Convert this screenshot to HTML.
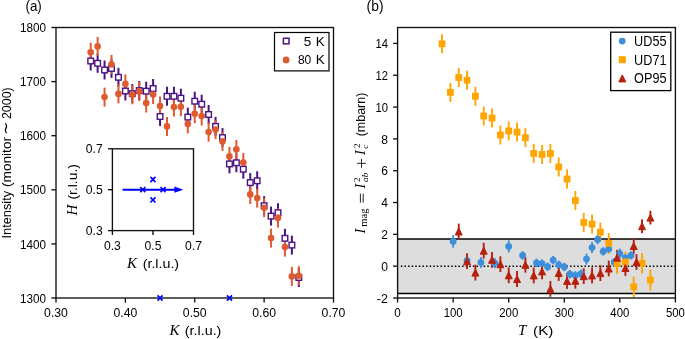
<!DOCTYPE html>
<html><head><meta charset="utf-8"><style>
html,body{margin:0;padding:0;background:#fff;overflow:hidden;}
svg{display:block;will-change:transform;}
text{font-family:"Liberation Sans",sans-serif;fill:#000;}
.m{font-family:"Liberation Serif",serif;font-style:italic;}
.r{font-family:"Liberation Serif",serif;}
</style></head><body>
<svg width="685" height="339" viewBox="0 0 685 339">
<g>
<line x1="90.69" y1="51.50" x2="90.69" y2="70.50" stroke="#4b1283" stroke-width="2.0"/>
<line x1="97.62" y1="53.80" x2="97.62" y2="72.80" stroke="#4b1283" stroke-width="2.0"/>
<line x1="104.56" y1="60.50" x2="104.56" y2="79.50" stroke="#4b1283" stroke-width="2.0"/>
<line x1="111.50" y1="58.90" x2="111.50" y2="77.90" stroke="#4b1283" stroke-width="2.0"/>
<line x1="118.44" y1="67.80" x2="118.44" y2="86.80" stroke="#4b1283" stroke-width="2.0"/>
<line x1="125.37" y1="81.50" x2="125.37" y2="100.50" stroke="#4b1283" stroke-width="2.0"/>
<line x1="132.31" y1="84.10" x2="132.31" y2="103.10" stroke="#4b1283" stroke-width="2.0"/>
<line x1="139.25" y1="81.10" x2="139.25" y2="100.10" stroke="#4b1283" stroke-width="2.0"/>
<line x1="146.19" y1="81.70" x2="146.19" y2="100.70" stroke="#4b1283" stroke-width="2.0"/>
<line x1="153.12" y1="79.00" x2="153.12" y2="98.00" stroke="#4b1283" stroke-width="2.0"/>
<line x1="160.06" y1="107.00" x2="160.06" y2="126.00" stroke="#4b1283" stroke-width="2.0"/>
<line x1="167.00" y1="86.80" x2="167.00" y2="105.80" stroke="#4b1283" stroke-width="2.0"/>
<line x1="173.94" y1="86.80" x2="173.94" y2="105.80" stroke="#4b1283" stroke-width="2.0"/>
<line x1="180.88" y1="88.70" x2="180.88" y2="107.70" stroke="#4b1283" stroke-width="2.0"/>
<line x1="187.81" y1="107.60" x2="187.81" y2="126.60" stroke="#4b1283" stroke-width="2.0"/>
<line x1="194.75" y1="91.70" x2="194.75" y2="110.70" stroke="#4b1283" stroke-width="2.0"/>
<line x1="201.69" y1="94.70" x2="201.69" y2="113.70" stroke="#4b1283" stroke-width="2.0"/>
<line x1="208.62" y1="105.00" x2="208.62" y2="124.00" stroke="#4b1283" stroke-width="2.0"/>
<line x1="215.56" y1="116.90" x2="215.56" y2="135.90" stroke="#4b1283" stroke-width="2.0"/>
<line x1="222.50" y1="128.10" x2="222.50" y2="147.10" stroke="#4b1283" stroke-width="2.0"/>
<line x1="229.44" y1="154.40" x2="229.44" y2="173.40" stroke="#4b1283" stroke-width="2.0"/>
<line x1="236.37" y1="153.30" x2="236.37" y2="172.30" stroke="#4b1283" stroke-width="2.0"/>
<line x1="243.31" y1="159.70" x2="243.31" y2="178.70" stroke="#4b1283" stroke-width="2.0"/>
<line x1="250.25" y1="173.10" x2="250.25" y2="192.10" stroke="#4b1283" stroke-width="2.0"/>
<line x1="257.19" y1="171.30" x2="257.19" y2="190.30" stroke="#4b1283" stroke-width="2.0"/>
<line x1="264.12" y1="196.20" x2="264.12" y2="215.20" stroke="#4b1283" stroke-width="2.0"/>
<line x1="271.06" y1="206.60" x2="271.06" y2="225.60" stroke="#4b1283" stroke-width="2.0"/>
<line x1="278.00" y1="203.20" x2="278.00" y2="222.20" stroke="#4b1283" stroke-width="2.0"/>
<line x1="284.94" y1="228.80" x2="284.94" y2="247.80" stroke="#4b1283" stroke-width="2.0"/>
<line x1="291.87" y1="235.60" x2="291.87" y2="254.60" stroke="#4b1283" stroke-width="2.0"/>
<line x1="298.81" y1="268.00" x2="298.81" y2="287.00" stroke="#4b1283" stroke-width="2.0"/>
<line x1="90.69" y1="42.70" x2="90.69" y2="61.70" stroke="#e05a30" stroke-width="2.0"/>
<line x1="97.62" y1="36.90" x2="97.62" y2="55.90" stroke="#e05a30" stroke-width="2.0"/>
<line x1="104.56" y1="87.60" x2="104.56" y2="106.60" stroke="#e05a30" stroke-width="2.0"/>
<line x1="111.50" y1="54.90" x2="111.50" y2="73.90" stroke="#e05a30" stroke-width="2.0"/>
<line x1="118.44" y1="84.40" x2="118.44" y2="103.40" stroke="#e05a30" stroke-width="2.0"/>
<line x1="125.37" y1="74.40" x2="125.37" y2="93.40" stroke="#e05a30" stroke-width="2.0"/>
<line x1="132.31" y1="85.30" x2="132.31" y2="104.30" stroke="#e05a30" stroke-width="2.0"/>
<line x1="139.25" y1="82.00" x2="139.25" y2="101.00" stroke="#e05a30" stroke-width="2.0"/>
<line x1="146.19" y1="93.50" x2="146.19" y2="112.50" stroke="#e05a30" stroke-width="2.0"/>
<line x1="153.12" y1="85.00" x2="153.12" y2="104.00" stroke="#e05a30" stroke-width="2.0"/>
<line x1="160.06" y1="96.50" x2="160.06" y2="115.50" stroke="#e05a30" stroke-width="2.0"/>
<line x1="167.00" y1="116.90" x2="167.00" y2="135.90" stroke="#e05a30" stroke-width="2.0"/>
<line x1="173.94" y1="97.50" x2="173.94" y2="116.50" stroke="#e05a30" stroke-width="2.0"/>
<line x1="180.88" y1="97.20" x2="180.88" y2="116.20" stroke="#e05a30" stroke-width="2.0"/>
<line x1="187.81" y1="114.40" x2="187.81" y2="133.40" stroke="#e05a30" stroke-width="2.0"/>
<line x1="194.75" y1="104.20" x2="194.75" y2="123.20" stroke="#e05a30" stroke-width="2.0"/>
<line x1="201.69" y1="106.50" x2="201.69" y2="125.50" stroke="#e05a30" stroke-width="2.0"/>
<line x1="208.62" y1="122.60" x2="208.62" y2="141.60" stroke="#e05a30" stroke-width="2.0"/>
<line x1="215.56" y1="120.10" x2="215.56" y2="139.10" stroke="#e05a30" stroke-width="2.0"/>
<line x1="222.50" y1="131.90" x2="222.50" y2="150.90" stroke="#e05a30" stroke-width="2.0"/>
<line x1="229.44" y1="146.90" x2="229.44" y2="165.90" stroke="#e05a30" stroke-width="2.0"/>
<line x1="236.37" y1="139.90" x2="236.37" y2="158.90" stroke="#e05a30" stroke-width="2.0"/>
<line x1="243.31" y1="153.10" x2="243.31" y2="172.10" stroke="#e05a30" stroke-width="2.0"/>
<line x1="250.25" y1="184.90" x2="250.25" y2="203.90" stroke="#e05a30" stroke-width="2.0"/>
<line x1="257.19" y1="188.60" x2="257.19" y2="207.60" stroke="#e05a30" stroke-width="2.0"/>
<line x1="264.12" y1="198.20" x2="264.12" y2="217.20" stroke="#e05a30" stroke-width="2.0"/>
<line x1="271.06" y1="228.60" x2="271.06" y2="247.60" stroke="#e05a30" stroke-width="2.0"/>
<line x1="278.00" y1="208.40" x2="278.00" y2="227.40" stroke="#e05a30" stroke-width="2.0"/>
<line x1="284.94" y1="237.60" x2="284.94" y2="256.60" stroke="#e05a30" stroke-width="2.0"/>
<line x1="291.87" y1="266.90" x2="291.87" y2="285.90" stroke="#e05a30" stroke-width="2.0"/>
<line x1="298.81" y1="266.20" x2="298.81" y2="285.20" stroke="#e05a30" stroke-width="2.0"/>
<rect x="87.89" y="58.20" width="5.6" height="5.6" fill="#fff" stroke="#4b1283" stroke-width="1.4"/>
<rect x="94.83" y="60.50" width="5.6" height="5.6" fill="#fff" stroke="#4b1283" stroke-width="1.4"/>
<rect x="101.76" y="67.20" width="5.6" height="5.6" fill="#fff" stroke="#4b1283" stroke-width="1.4"/>
<rect x="108.70" y="65.60" width="5.6" height="5.6" fill="#fff" stroke="#4b1283" stroke-width="1.4"/>
<rect x="115.64" y="74.50" width="5.6" height="5.6" fill="#fff" stroke="#4b1283" stroke-width="1.4"/>
<rect x="122.57" y="88.20" width="5.6" height="5.6" fill="#fff" stroke="#4b1283" stroke-width="1.4"/>
<rect x="129.51" y="90.80" width="5.6" height="5.6" fill="#fff" stroke="#4b1283" stroke-width="1.4"/>
<rect x="136.45" y="87.80" width="5.6" height="5.6" fill="#fff" stroke="#4b1283" stroke-width="1.4"/>
<rect x="143.39" y="88.40" width="5.6" height="5.6" fill="#fff" stroke="#4b1283" stroke-width="1.4"/>
<rect x="150.32" y="85.70" width="5.6" height="5.6" fill="#fff" stroke="#4b1283" stroke-width="1.4"/>
<rect x="157.26" y="113.70" width="5.6" height="5.6" fill="#fff" stroke="#4b1283" stroke-width="1.4"/>
<rect x="164.20" y="93.50" width="5.6" height="5.6" fill="#fff" stroke="#4b1283" stroke-width="1.4"/>
<rect x="171.14" y="93.50" width="5.6" height="5.6" fill="#fff" stroke="#4b1283" stroke-width="1.4"/>
<rect x="178.07" y="95.40" width="5.6" height="5.6" fill="#fff" stroke="#4b1283" stroke-width="1.4"/>
<rect x="185.01" y="114.30" width="5.6" height="5.6" fill="#fff" stroke="#4b1283" stroke-width="1.4"/>
<rect x="191.95" y="98.40" width="5.6" height="5.6" fill="#fff" stroke="#4b1283" stroke-width="1.4"/>
<rect x="198.89" y="101.40" width="5.6" height="5.6" fill="#fff" stroke="#4b1283" stroke-width="1.4"/>
<rect x="205.82" y="111.70" width="5.6" height="5.6" fill="#fff" stroke="#4b1283" stroke-width="1.4"/>
<rect x="212.76" y="123.60" width="5.6" height="5.6" fill="#fff" stroke="#4b1283" stroke-width="1.4"/>
<rect x="219.70" y="134.80" width="5.6" height="5.6" fill="#fff" stroke="#4b1283" stroke-width="1.4"/>
<rect x="226.64" y="161.10" width="5.6" height="5.6" fill="#fff" stroke="#4b1283" stroke-width="1.4"/>
<rect x="233.57" y="160.00" width="5.6" height="5.6" fill="#fff" stroke="#4b1283" stroke-width="1.4"/>
<rect x="240.51" y="166.40" width="5.6" height="5.6" fill="#fff" stroke="#4b1283" stroke-width="1.4"/>
<rect x="247.45" y="179.80" width="5.6" height="5.6" fill="#fff" stroke="#4b1283" stroke-width="1.4"/>
<rect x="254.39" y="178.00" width="5.6" height="5.6" fill="#fff" stroke="#4b1283" stroke-width="1.4"/>
<rect x="261.32" y="202.90" width="5.6" height="5.6" fill="#fff" stroke="#4b1283" stroke-width="1.4"/>
<rect x="268.26" y="213.30" width="5.6" height="5.6" fill="#fff" stroke="#4b1283" stroke-width="1.4"/>
<rect x="275.20" y="209.90" width="5.6" height="5.6" fill="#fff" stroke="#4b1283" stroke-width="1.4"/>
<rect x="282.14" y="235.50" width="5.6" height="5.6" fill="#fff" stroke="#4b1283" stroke-width="1.4"/>
<rect x="289.07" y="242.30" width="5.6" height="5.6" fill="#fff" stroke="#4b1283" stroke-width="1.4"/>
<rect x="296.01" y="274.70" width="5.6" height="5.6" fill="#fff" stroke="#4b1283" stroke-width="1.4"/>
<circle cx="90.69" cy="52.20" r="3.3" fill="#e05a30"/>
<circle cx="97.62" cy="46.40" r="3.3" fill="#e05a30"/>
<circle cx="104.56" cy="97.10" r="3.3" fill="#e05a30"/>
<circle cx="111.50" cy="64.40" r="3.3" fill="#e05a30"/>
<circle cx="118.44" cy="93.90" r="3.3" fill="#e05a30"/>
<circle cx="125.37" cy="83.90" r="3.3" fill="#e05a30"/>
<circle cx="132.31" cy="94.80" r="3.3" fill="#e05a30"/>
<circle cx="139.25" cy="91.50" r="3.3" fill="#e05a30"/>
<circle cx="146.19" cy="103.00" r="3.3" fill="#e05a30"/>
<circle cx="153.12" cy="94.50" r="3.3" fill="#e05a30"/>
<circle cx="160.06" cy="106.00" r="3.3" fill="#e05a30"/>
<circle cx="167.00" cy="126.40" r="3.3" fill="#e05a30"/>
<circle cx="173.94" cy="107.00" r="3.3" fill="#e05a30"/>
<circle cx="180.88" cy="106.70" r="3.3" fill="#e05a30"/>
<circle cx="187.81" cy="123.90" r="3.3" fill="#e05a30"/>
<circle cx="194.75" cy="113.70" r="3.3" fill="#e05a30"/>
<circle cx="201.69" cy="116.00" r="3.3" fill="#e05a30"/>
<circle cx="208.62" cy="132.10" r="3.3" fill="#e05a30"/>
<circle cx="215.56" cy="129.60" r="3.3" fill="#e05a30"/>
<circle cx="222.50" cy="141.40" r="3.3" fill="#e05a30"/>
<circle cx="229.44" cy="156.40" r="3.3" fill="#e05a30"/>
<circle cx="236.37" cy="149.40" r="3.3" fill="#e05a30"/>
<circle cx="243.31" cy="162.60" r="3.3" fill="#e05a30"/>
<circle cx="250.25" cy="194.40" r="3.3" fill="#e05a30"/>
<circle cx="257.19" cy="198.10" r="3.3" fill="#e05a30"/>
<circle cx="264.12" cy="207.70" r="3.3" fill="#e05a30"/>
<circle cx="271.06" cy="238.10" r="3.3" fill="#e05a30"/>
<circle cx="278.00" cy="217.90" r="3.3" fill="#e05a30"/>
<circle cx="284.94" cy="247.10" r="3.3" fill="#e05a30"/>
<circle cx="291.87" cy="276.40" r="3.3" fill="#e05a30"/>
<circle cx="298.81" cy="275.70" r="3.3" fill="#e05a30"/>
</g>
<rect x="56.0" y="27.5" width="277.5" height="270.5" fill="none" stroke="#111" stroke-width="1.35"/>
<path d="M157.51,295.45L162.61,300.55M157.51,300.55L162.61,295.45" stroke="#0000ff" stroke-width="1.7" fill="none"/>
<path d="M226.89,295.45L231.99,300.55M226.89,300.55L231.99,295.45" stroke="#0000ff" stroke-width="1.7" fill="none"/>
<line x1="51.40" y1="27.50" x2="56.0" y2="27.50" stroke="#111" stroke-width="1.35"/>
<text x="46.10" y="32.15" font-size="13.5" text-anchor="end" textLength="26.1" lengthAdjust="spacingAndGlyphs">1800</text>
<line x1="51.40" y1="81.60" x2="56.0" y2="81.60" stroke="#111" stroke-width="1.35"/>
<text x="46.10" y="86.25" font-size="13.5" text-anchor="end" textLength="26.1" lengthAdjust="spacingAndGlyphs">1700</text>
<line x1="51.40" y1="135.70" x2="56.0" y2="135.70" stroke="#111" stroke-width="1.35"/>
<text x="46.10" y="140.35" font-size="13.5" text-anchor="end" textLength="26.1" lengthAdjust="spacingAndGlyphs">1600</text>
<line x1="51.40" y1="189.80" x2="56.0" y2="189.80" stroke="#111" stroke-width="1.35"/>
<text x="46.10" y="194.45" font-size="13.5" text-anchor="end" textLength="26.1" lengthAdjust="spacingAndGlyphs">1500</text>
<line x1="51.40" y1="243.90" x2="56.0" y2="243.90" stroke="#111" stroke-width="1.35"/>
<text x="46.10" y="248.55" font-size="13.5" text-anchor="end" textLength="26.1" lengthAdjust="spacingAndGlyphs">1400</text>
<line x1="51.40" y1="298.00" x2="56.0" y2="298.00" stroke="#111" stroke-width="1.35"/>
<text x="46.10" y="302.65" font-size="13.5" text-anchor="end" textLength="26.1" lengthAdjust="spacingAndGlyphs">1300</text>
<line x1="56.00" y1="298.0" x2="56.00" y2="302.60" stroke="#111" stroke-width="1.35"/>
<text x="56.00" y="317.20" font-size="13.5" text-anchor="middle" textLength="23.8" lengthAdjust="spacingAndGlyphs">0.30</text>
<line x1="125.38" y1="298.0" x2="125.38" y2="302.60" stroke="#111" stroke-width="1.35"/>
<text x="125.38" y="317.20" font-size="13.5" text-anchor="middle" textLength="23.8" lengthAdjust="spacingAndGlyphs">0.40</text>
<line x1="194.75" y1="298.0" x2="194.75" y2="302.60" stroke="#111" stroke-width="1.35"/>
<text x="194.75" y="317.20" font-size="13.5" text-anchor="middle" textLength="23.8" lengthAdjust="spacingAndGlyphs">0.50</text>
<line x1="264.12" y1="298.0" x2="264.12" y2="302.60" stroke="#111" stroke-width="1.35"/>
<text x="264.12" y="317.20" font-size="13.5" text-anchor="middle" textLength="23.8" lengthAdjust="spacingAndGlyphs">0.60</text>
<line x1="333.50" y1="298.0" x2="333.50" y2="302.60" stroke="#111" stroke-width="1.35"/>
<text x="333.50" y="317.20" font-size="13.5" text-anchor="middle" textLength="23.8" lengthAdjust="spacingAndGlyphs">0.70</text>
<rect x="274.5" y="32.5" width="54.5" height="38.4" fill="#fff" stroke="#000" stroke-width="1.2"/>
<rect x="283.40" y="38.25" width="5.6" height="5.6" fill="#fff" stroke="#4b1283" stroke-width="1.5"/>
<circle cx="286.1" cy="59.9" r="3.35" fill="#e05a30"/>
<text x="311.30" y="45.80" font-size="13.5" text-anchor="end">5</text>
<text x="315.80" y="45.80" font-size="13.5">K</text>
<text x="311.30" y="64.40" font-size="13.5" text-anchor="end" textLength="13.4" lengthAdjust="spacingAndGlyphs">80</text>
<text x="315.80" y="64.40" font-size="13.5">K</text>
<text x="25.50" y="10.60" font-size="14.5" textLength="16.3" lengthAdjust="spacingAndGlyphs">(a)</text>
<text x="169.4" y="334.9" font-size="15" class="m">K</text>
<text x="184.80" y="334.90" font-size="13.5" textLength="36.6" lengthAdjust="spacingAndGlyphs">(r.l.u.)</text>
<g transform="translate(10.6,237.5) rotate(-90)"><text x="-0.95" y="0" font-size="13.5" textLength="47.5" lengthAdjust="spacingAndGlyphs">Intensity</text><text x="50.6" y="0" font-size="13.5" textLength="49.9" lengthAdjust="spacingAndGlyphs">(monitor</text><text x="102.3" y="0" font-size="16">∼</text><text x="118.4" y="0" font-size="13.5" textLength="31.8" lengthAdjust="spacingAndGlyphs">2000)</text></g>
<rect x="112.4" y="148.8" width="81.10" height="81.80" fill="#fff" stroke="#111" stroke-width="1.35"/>
<line x1="122.54" y1="189.70" x2="177.36" y2="189.70" stroke="#0000ff" stroke-width="2"/>
<path d="M183.36,189.70L174.36,186.60L174.36,192.80Z" fill="#0000ff"/>
<path d="M140.26,187.15L145.36,192.25M140.26,192.25L145.36,187.15" stroke="#0000ff" stroke-width="1.7" fill="none"/>
<path d="M160.54,187.15L165.64,192.25M160.54,192.25L165.64,187.15" stroke="#0000ff" stroke-width="1.7" fill="none"/>
<path d="M150.40,176.92L155.50,182.03M150.40,182.03L155.50,176.92" stroke="#0000ff" stroke-width="1.7" fill="none"/>
<path d="M150.40,197.38L155.50,202.48M150.40,202.48L155.50,197.38" stroke="#0000ff" stroke-width="1.7" fill="none"/>
<line x1="108.00" y1="230.60" x2="112.4" y2="230.60" stroke="#111" stroke-width="1.35"/>
<text x="102.70" y="235.25" font-size="13.5" text-anchor="end" textLength="16.9" lengthAdjust="spacingAndGlyphs">0.3</text>
<line x1="108.00" y1="189.70" x2="112.4" y2="189.70" stroke="#111" stroke-width="1.35"/>
<text x="102.70" y="194.35" font-size="13.5" text-anchor="end" textLength="16.9" lengthAdjust="spacingAndGlyphs">0.5</text>
<line x1="108.00" y1="148.80" x2="112.4" y2="148.80" stroke="#111" stroke-width="1.35"/>
<text x="102.70" y="153.45" font-size="13.5" text-anchor="end" textLength="16.9" lengthAdjust="spacingAndGlyphs">0.7</text>
<line x1="112.40" y1="230.6" x2="112.40" y2="235.00" stroke="#111" stroke-width="1.35"/>
<text x="112.40" y="250.00" font-size="13.5" text-anchor="middle" textLength="16.9" lengthAdjust="spacingAndGlyphs">0.3</text>
<line x1="152.95" y1="230.6" x2="152.95" y2="235.00" stroke="#111" stroke-width="1.35"/>
<text x="152.95" y="250.00" font-size="13.5" text-anchor="middle" textLength="16.9" lengthAdjust="spacingAndGlyphs">0.5</text>
<line x1="193.50" y1="230.6" x2="193.50" y2="235.00" stroke="#111" stroke-width="1.35"/>
<text x="193.50" y="250.00" font-size="13.5" text-anchor="middle" textLength="16.9" lengthAdjust="spacingAndGlyphs">0.7</text>
<text x="127.1" y="268.0" font-size="15" class="m">K</text>
<text x="142.70" y="268.00" font-size="13.5" textLength="36.4" lengthAdjust="spacingAndGlyphs">(r.l.u.)</text>
<g transform="translate(77.2,215.5) rotate(-90)"><text x="0" y="0" font-size="15" class="m">H</text><text x="15.9" y="0" font-size="13.5" textLength="35.6" lengthAdjust="spacingAndGlyphs">(r.l.u.)</text></g>
<rect x="397.6" y="239.1" width="277.80" height="54.30" fill="#dddddd"/>
<line x1="397.6" y1="239.1" x2="675.4" y2="239.1" stroke="#000" stroke-width="1.5"/>
<line x1="397.6" y1="293.4" x2="675.4" y2="293.4" stroke="#000" stroke-width="1.5"/>
<line x1="400.85" y1="266.18" x2="675.4" y2="266.18" stroke="#000" stroke-width="1.5" stroke-dasharray="1.5 2.1"/>
<line x1="453.16" y1="235.10" x2="453.16" y2="247.70" stroke="#3d8fdc" stroke-width="1.9"/>
<line x1="467.05" y1="255.20" x2="467.05" y2="266.20" stroke="#3d8fdc" stroke-width="1.9"/>
<line x1="480.94" y1="257.20" x2="480.94" y2="267.80" stroke="#3d8fdc" stroke-width="1.9"/>
<line x1="494.83" y1="258.20" x2="494.83" y2="268.20" stroke="#3d8fdc" stroke-width="1.9"/>
<line x1="508.72" y1="240.40" x2="508.72" y2="252.40" stroke="#3d8fdc" stroke-width="1.9"/>
<line x1="522.61" y1="251.20" x2="522.61" y2="259.60" stroke="#3d8fdc" stroke-width="1.9"/>
<line x1="536.50" y1="258.70" x2="536.50" y2="267.10" stroke="#3d8fdc" stroke-width="1.9"/>
<line x1="542.06" y1="259.40" x2="542.06" y2="267.80" stroke="#3d8fdc" stroke-width="1.9"/>
<line x1="547.61" y1="262.50" x2="547.61" y2="270.90" stroke="#3d8fdc" stroke-width="1.9"/>
<line x1="553.17" y1="255.90" x2="553.17" y2="264.30" stroke="#3d8fdc" stroke-width="1.9"/>
<line x1="558.72" y1="260.60" x2="558.72" y2="269.00" stroke="#3d8fdc" stroke-width="1.9"/>
<line x1="564.28" y1="262.80" x2="564.28" y2="271.20" stroke="#3d8fdc" stroke-width="1.9"/>
<line x1="569.84" y1="270.00" x2="569.84" y2="278.40" stroke="#3d8fdc" stroke-width="1.9"/>
<line x1="575.39" y1="271.20" x2="575.39" y2="279.60" stroke="#3d8fdc" stroke-width="1.9"/>
<line x1="580.95" y1="269.60" x2="580.95" y2="278.00" stroke="#3d8fdc" stroke-width="1.9"/>
<line x1="586.50" y1="253.60" x2="586.50" y2="264.60" stroke="#3d8fdc" stroke-width="1.9"/>
<line x1="592.06" y1="242.10" x2="592.06" y2="253.10" stroke="#3d8fdc" stroke-width="1.9"/>
<line x1="597.62" y1="234.60" x2="597.62" y2="244.20" stroke="#3d8fdc" stroke-width="1.9"/>
<line x1="603.17" y1="247.20" x2="603.17" y2="255.60" stroke="#3d8fdc" stroke-width="1.9"/>
<line x1="608.73" y1="244.90" x2="608.73" y2="253.30" stroke="#3d8fdc" stroke-width="1.9"/>
<line x1="614.28" y1="258.00" x2="614.28" y2="266.40" stroke="#3d8fdc" stroke-width="1.9"/>
<line x1="619.84" y1="248.60" x2="619.84" y2="258.60" stroke="#3d8fdc" stroke-width="1.9"/>
<line x1="625.40" y1="253.50" x2="625.40" y2="261.90" stroke="#3d8fdc" stroke-width="1.9"/>
<line x1="630.95" y1="251.20" x2="630.95" y2="259.60" stroke="#3d8fdc" stroke-width="1.9"/>
<line x1="442.05" y1="34.30" x2="442.05" y2="53.30" stroke="#ffa500" stroke-width="1.9"/>
<line x1="450.38" y1="82.90" x2="450.38" y2="101.90" stroke="#ffa500" stroke-width="1.9"/>
<line x1="458.72" y1="68.00" x2="458.72" y2="87.00" stroke="#ffa500" stroke-width="1.9"/>
<line x1="467.05" y1="70.70" x2="467.05" y2="89.70" stroke="#ffa500" stroke-width="1.9"/>
<line x1="475.38" y1="86.70" x2="475.38" y2="105.70" stroke="#ffa500" stroke-width="1.9"/>
<line x1="483.72" y1="106.50" x2="483.72" y2="125.50" stroke="#ffa500" stroke-width="1.9"/>
<line x1="492.05" y1="108.60" x2="492.05" y2="127.60" stroke="#ffa500" stroke-width="1.9"/>
<line x1="500.39" y1="125.50" x2="500.39" y2="144.50" stroke="#ffa500" stroke-width="1.9"/>
<line x1="508.72" y1="121.40" x2="508.72" y2="140.40" stroke="#ffa500" stroke-width="1.9"/>
<line x1="517.05" y1="122.60" x2="517.05" y2="141.60" stroke="#ffa500" stroke-width="1.9"/>
<line x1="525.39" y1="128.20" x2="525.39" y2="147.20" stroke="#ffa500" stroke-width="1.9"/>
<line x1="533.72" y1="143.90" x2="533.72" y2="162.90" stroke="#ffa500" stroke-width="1.9"/>
<line x1="542.06" y1="145.00" x2="542.06" y2="164.00" stroke="#ffa500" stroke-width="1.9"/>
<line x1="550.39" y1="144.00" x2="550.39" y2="163.00" stroke="#ffa500" stroke-width="1.9"/>
<line x1="558.72" y1="157.50" x2="558.72" y2="176.50" stroke="#ffa500" stroke-width="1.9"/>
<line x1="567.06" y1="169.50" x2="567.06" y2="188.50" stroke="#ffa500" stroke-width="1.9"/>
<line x1="575.39" y1="191.00" x2="575.39" y2="210.00" stroke="#ffa500" stroke-width="1.9"/>
<line x1="583.73" y1="213.00" x2="583.73" y2="232.00" stroke="#ffa500" stroke-width="1.9"/>
<line x1="592.06" y1="214.60" x2="592.06" y2="233.60" stroke="#ffa500" stroke-width="1.9"/>
<line x1="600.39" y1="222.60" x2="600.39" y2="241.60" stroke="#ffa500" stroke-width="1.9"/>
<line x1="608.73" y1="233.10" x2="608.73" y2="253.70" stroke="#ffa500" stroke-width="1.9"/>
<line x1="617.06" y1="253.20" x2="617.06" y2="273.80" stroke="#ffa500" stroke-width="1.9"/>
<line x1="625.40" y1="251.60" x2="625.40" y2="272.20" stroke="#ffa500" stroke-width="1.9"/>
<line x1="633.73" y1="276.50" x2="633.73" y2="297.10" stroke="#ffa500" stroke-width="1.9"/>
<line x1="642.06" y1="252.90" x2="642.06" y2="273.50" stroke="#ffa500" stroke-width="1.9"/>
<line x1="650.40" y1="269.70" x2="650.40" y2="290.30" stroke="#ffa500" stroke-width="1.9"/>
<line x1="458.72" y1="223.60" x2="458.72" y2="239.40" stroke="#b7200e" stroke-width="1.9"/>
<line x1="467.05" y1="253.30" x2="467.05" y2="269.10" stroke="#b7200e" stroke-width="1.9"/>
<line x1="475.38" y1="264.70" x2="475.38" y2="280.50" stroke="#b7200e" stroke-width="1.9"/>
<line x1="483.72" y1="242.80" x2="483.72" y2="258.60" stroke="#b7200e" stroke-width="1.9"/>
<line x1="492.05" y1="251.90" x2="492.05" y2="267.70" stroke="#b7200e" stroke-width="1.9"/>
<line x1="500.39" y1="256.30" x2="500.39" y2="272.10" stroke="#b7200e" stroke-width="1.9"/>
<line x1="508.72" y1="267.40" x2="508.72" y2="283.20" stroke="#b7200e" stroke-width="1.9"/>
<line x1="517.05" y1="271.10" x2="517.05" y2="286.90" stroke="#b7200e" stroke-width="1.9"/>
<line x1="525.39" y1="256.90" x2="525.39" y2="272.70" stroke="#b7200e" stroke-width="1.9"/>
<line x1="533.72" y1="267.50" x2="533.72" y2="283.30" stroke="#b7200e" stroke-width="1.9"/>
<line x1="542.06" y1="263.50" x2="542.06" y2="279.30" stroke="#b7200e" stroke-width="1.9"/>
<line x1="550.39" y1="281.00" x2="550.39" y2="296.80" stroke="#b7200e" stroke-width="1.9"/>
<line x1="558.72" y1="265.10" x2="558.72" y2="280.90" stroke="#b7200e" stroke-width="1.9"/>
<line x1="567.06" y1="273.10" x2="567.06" y2="288.90" stroke="#b7200e" stroke-width="1.9"/>
<line x1="575.39" y1="272.90" x2="575.39" y2="288.70" stroke="#b7200e" stroke-width="1.9"/>
<line x1="583.73" y1="268.20" x2="583.73" y2="284.00" stroke="#b7200e" stroke-width="1.9"/>
<line x1="592.06" y1="267.50" x2="592.06" y2="283.30" stroke="#b7200e" stroke-width="1.9"/>
<line x1="600.39" y1="265.20" x2="600.39" y2="281.00" stroke="#b7200e" stroke-width="1.9"/>
<line x1="608.73" y1="260.60" x2="608.73" y2="276.40" stroke="#b7200e" stroke-width="1.9"/>
<line x1="617.06" y1="249.80" x2="617.06" y2="265.60" stroke="#b7200e" stroke-width="1.9"/>
<line x1="625.40" y1="260.10" x2="625.40" y2="275.90" stroke="#b7200e" stroke-width="1.9"/>
<line x1="633.73" y1="238.10" x2="633.73" y2="253.90" stroke="#b7200e" stroke-width="1.9"/>
<line x1="636.51" y1="254.10" x2="636.51" y2="269.90" stroke="#b7200e" stroke-width="1.9"/>
<line x1="642.06" y1="219.30" x2="642.06" y2="233.10" stroke="#b7200e" stroke-width="1.9"/>
<line x1="650.40" y1="210.70" x2="650.40" y2="224.50" stroke="#b7200e" stroke-width="1.9"/>
<circle cx="453.16" cy="241.40" r="3.4" fill="#3d8fdc"/>
<circle cx="467.05" cy="260.70" r="3.4" fill="#3d8fdc"/>
<circle cx="480.94" cy="262.50" r="3.4" fill="#3d8fdc"/>
<circle cx="494.83" cy="263.20" r="3.4" fill="#3d8fdc"/>
<circle cx="508.72" cy="246.40" r="3.4" fill="#3d8fdc"/>
<circle cx="522.61" cy="255.40" r="3.4" fill="#3d8fdc"/>
<circle cx="536.50" cy="262.90" r="3.4" fill="#3d8fdc"/>
<circle cx="542.06" cy="263.60" r="3.4" fill="#3d8fdc"/>
<circle cx="547.61" cy="266.70" r="3.4" fill="#3d8fdc"/>
<circle cx="553.17" cy="260.10" r="3.4" fill="#3d8fdc"/>
<circle cx="558.72" cy="264.80" r="3.4" fill="#3d8fdc"/>
<circle cx="564.28" cy="267.00" r="3.4" fill="#3d8fdc"/>
<circle cx="569.84" cy="274.20" r="3.4" fill="#3d8fdc"/>
<circle cx="575.39" cy="275.40" r="3.4" fill="#3d8fdc"/>
<circle cx="580.95" cy="273.80" r="3.4" fill="#3d8fdc"/>
<circle cx="586.50" cy="259.10" r="3.4" fill="#3d8fdc"/>
<circle cx="592.06" cy="247.60" r="3.4" fill="#3d8fdc"/>
<circle cx="597.62" cy="239.40" r="3.4" fill="#3d8fdc"/>
<circle cx="603.17" cy="251.40" r="3.4" fill="#3d8fdc"/>
<circle cx="608.73" cy="249.10" r="3.4" fill="#3d8fdc"/>
<circle cx="614.28" cy="262.20" r="3.4" fill="#3d8fdc"/>
<circle cx="619.84" cy="253.60" r="3.4" fill="#3d8fdc"/>
<circle cx="625.40" cy="257.70" r="3.4" fill="#3d8fdc"/>
<circle cx="630.95" cy="255.40" r="3.4" fill="#3d8fdc"/>
<rect x="438.65" y="40.40" width="6.8" height="6.8" fill="#ffa500"/>
<rect x="446.98" y="89.00" width="6.8" height="6.8" fill="#ffa500"/>
<rect x="455.32" y="74.10" width="6.8" height="6.8" fill="#ffa500"/>
<rect x="463.65" y="76.80" width="6.8" height="6.8" fill="#ffa500"/>
<rect x="471.98" y="92.80" width="6.8" height="6.8" fill="#ffa500"/>
<rect x="480.32" y="112.60" width="6.8" height="6.8" fill="#ffa500"/>
<rect x="488.65" y="114.70" width="6.8" height="6.8" fill="#ffa500"/>
<rect x="496.99" y="131.60" width="6.8" height="6.8" fill="#ffa500"/>
<rect x="505.32" y="127.50" width="6.8" height="6.8" fill="#ffa500"/>
<rect x="513.65" y="128.70" width="6.8" height="6.8" fill="#ffa500"/>
<rect x="521.99" y="134.30" width="6.8" height="6.8" fill="#ffa500"/>
<rect x="530.32" y="150.00" width="6.8" height="6.8" fill="#ffa500"/>
<rect x="538.66" y="151.10" width="6.8" height="6.8" fill="#ffa500"/>
<rect x="546.99" y="150.10" width="6.8" height="6.8" fill="#ffa500"/>
<rect x="555.32" y="163.60" width="6.8" height="6.8" fill="#ffa500"/>
<rect x="563.66" y="175.60" width="6.8" height="6.8" fill="#ffa500"/>
<rect x="571.99" y="197.10" width="6.8" height="6.8" fill="#ffa500"/>
<rect x="580.33" y="219.10" width="6.8" height="6.8" fill="#ffa500"/>
<rect x="588.66" y="220.70" width="6.8" height="6.8" fill="#ffa500"/>
<rect x="596.99" y="228.70" width="6.8" height="6.8" fill="#ffa500"/>
<rect x="605.33" y="240.00" width="6.8" height="6.8" fill="#ffa500"/>
<rect x="613.66" y="260.10" width="6.8" height="6.8" fill="#ffa500"/>
<rect x="622.00" y="258.50" width="6.8" height="6.8" fill="#ffa500"/>
<rect x="630.33" y="283.40" width="6.8" height="6.8" fill="#ffa500"/>
<rect x="638.66" y="259.80" width="6.8" height="6.8" fill="#ffa500"/>
<rect x="647.00" y="276.60" width="6.8" height="6.8" fill="#ffa500"/>
<path d="M458.72,228.00L455.22,235.00L462.22,235.00Z" fill="#b7200e" stroke="#b7200e" stroke-width="1" stroke-linejoin="miter"/>
<path d="M467.05,257.70L463.55,264.70L470.55,264.70Z" fill="#b7200e" stroke="#b7200e" stroke-width="1" stroke-linejoin="miter"/>
<path d="M475.38,269.10L471.88,276.10L478.88,276.10Z" fill="#b7200e" stroke="#b7200e" stroke-width="1" stroke-linejoin="miter"/>
<path d="M483.72,247.20L480.22,254.20L487.22,254.20Z" fill="#b7200e" stroke="#b7200e" stroke-width="1" stroke-linejoin="miter"/>
<path d="M492.05,256.30L488.55,263.30L495.55,263.30Z" fill="#b7200e" stroke="#b7200e" stroke-width="1" stroke-linejoin="miter"/>
<path d="M500.39,260.70L496.89,267.70L503.89,267.70Z" fill="#b7200e" stroke="#b7200e" stroke-width="1" stroke-linejoin="miter"/>
<path d="M508.72,271.80L505.22,278.80L512.22,278.80Z" fill="#b7200e" stroke="#b7200e" stroke-width="1" stroke-linejoin="miter"/>
<path d="M517.05,275.50L513.55,282.50L520.55,282.50Z" fill="#b7200e" stroke="#b7200e" stroke-width="1" stroke-linejoin="miter"/>
<path d="M525.39,261.30L521.89,268.30L528.89,268.30Z" fill="#b7200e" stroke="#b7200e" stroke-width="1" stroke-linejoin="miter"/>
<path d="M533.72,271.90L530.22,278.90L537.22,278.90Z" fill="#b7200e" stroke="#b7200e" stroke-width="1" stroke-linejoin="miter"/>
<path d="M542.06,267.90L538.56,274.90L545.56,274.90Z" fill="#b7200e" stroke="#b7200e" stroke-width="1" stroke-linejoin="miter"/>
<path d="M550.39,285.40L546.89,292.40L553.89,292.40Z" fill="#b7200e" stroke="#b7200e" stroke-width="1" stroke-linejoin="miter"/>
<path d="M558.72,269.50L555.22,276.50L562.22,276.50Z" fill="#b7200e" stroke="#b7200e" stroke-width="1" stroke-linejoin="miter"/>
<path d="M567.06,277.50L563.56,284.50L570.56,284.50Z" fill="#b7200e" stroke="#b7200e" stroke-width="1" stroke-linejoin="miter"/>
<path d="M575.39,277.30L571.89,284.30L578.89,284.30Z" fill="#b7200e" stroke="#b7200e" stroke-width="1" stroke-linejoin="miter"/>
<path d="M583.73,272.60L580.23,279.60L587.23,279.60Z" fill="#b7200e" stroke="#b7200e" stroke-width="1" stroke-linejoin="miter"/>
<path d="M592.06,271.90L588.56,278.90L595.56,278.90Z" fill="#b7200e" stroke="#b7200e" stroke-width="1" stroke-linejoin="miter"/>
<path d="M600.39,269.60L596.89,276.60L603.89,276.60Z" fill="#b7200e" stroke="#b7200e" stroke-width="1" stroke-linejoin="miter"/>
<path d="M608.73,265.00L605.23,272.00L612.23,272.00Z" fill="#b7200e" stroke="#b7200e" stroke-width="1" stroke-linejoin="miter"/>
<path d="M617.06,254.20L613.56,261.20L620.56,261.20Z" fill="#b7200e" stroke="#b7200e" stroke-width="1" stroke-linejoin="miter"/>
<path d="M625.40,264.50L621.90,271.50L628.90,271.50Z" fill="#b7200e" stroke="#b7200e" stroke-width="1" stroke-linejoin="miter"/>
<path d="M633.73,242.50L630.23,249.50L637.23,249.50Z" fill="#b7200e" stroke="#b7200e" stroke-width="1" stroke-linejoin="miter"/>
<path d="M636.51,258.50L633.01,265.50L640.01,265.50Z" fill="#b7200e" stroke="#b7200e" stroke-width="1" stroke-linejoin="miter"/>
<path d="M642.06,222.70L638.56,229.70L645.56,229.70Z" fill="#b7200e" stroke="#b7200e" stroke-width="1" stroke-linejoin="miter"/>
<path d="M650.40,214.10L646.90,221.10L653.90,221.10Z" fill="#b7200e" stroke="#b7200e" stroke-width="1" stroke-linejoin="miter"/>
<rect x="397.6" y="27.5" width="277.80" height="270.50" fill="none" stroke="#111" stroke-width="1.35"/>
<line x1="393.10" y1="298.00" x2="397.6" y2="298.00" stroke="#111" stroke-width="1.35"/>
<text x="387.90" y="302.65" font-size="13.5" text-anchor="end" textLength="11.1" lengthAdjust="spacingAndGlyphs">-2</text>
<line x1="393.10" y1="266.18" x2="397.6" y2="266.18" stroke="#111" stroke-width="1.35"/>
<text x="387.90" y="270.83" font-size="13.5" text-anchor="end" textLength="6.7" lengthAdjust="spacingAndGlyphs">0</text>
<line x1="393.10" y1="234.35" x2="397.6" y2="234.35" stroke="#111" stroke-width="1.35"/>
<text x="387.90" y="239.00" font-size="13.5" text-anchor="end" textLength="6.7" lengthAdjust="spacingAndGlyphs">2</text>
<line x1="393.10" y1="202.53" x2="397.6" y2="202.53" stroke="#111" stroke-width="1.35"/>
<text x="387.90" y="207.18" font-size="13.5" text-anchor="end" textLength="6.7" lengthAdjust="spacingAndGlyphs">4</text>
<line x1="393.10" y1="170.71" x2="397.6" y2="170.71" stroke="#111" stroke-width="1.35"/>
<text x="387.90" y="175.36" font-size="13.5" text-anchor="end" textLength="6.7" lengthAdjust="spacingAndGlyphs">6</text>
<line x1="393.10" y1="138.88" x2="397.6" y2="138.88" stroke="#111" stroke-width="1.35"/>
<text x="387.90" y="143.53" font-size="13.5" text-anchor="end" textLength="6.7" lengthAdjust="spacingAndGlyphs">8</text>
<line x1="393.10" y1="107.06" x2="397.6" y2="107.06" stroke="#111" stroke-width="1.35"/>
<text x="387.90" y="111.71" font-size="13.5" text-anchor="end" textLength="12.5" lengthAdjust="spacingAndGlyphs">10</text>
<line x1="393.10" y1="75.24" x2="397.6" y2="75.24" stroke="#111" stroke-width="1.35"/>
<text x="387.90" y="79.89" font-size="13.5" text-anchor="end" textLength="12.5" lengthAdjust="spacingAndGlyphs">12</text>
<line x1="393.10" y1="43.41" x2="397.6" y2="43.41" stroke="#111" stroke-width="1.35"/>
<text x="387.90" y="48.06" font-size="13.5" text-anchor="end" textLength="12.5" lengthAdjust="spacingAndGlyphs">14</text>
<line x1="397.60" y1="298.0" x2="397.60" y2="302.50" stroke="#111" stroke-width="1.35"/>
<text x="397.60" y="317.00" font-size="13.5" text-anchor="middle" textLength="6.5" lengthAdjust="spacingAndGlyphs">0</text>
<line x1="453.16" y1="298.0" x2="453.16" y2="302.50" stroke="#111" stroke-width="1.35"/>
<text x="453.16" y="317.00" font-size="13.5" text-anchor="middle" textLength="19.0" lengthAdjust="spacingAndGlyphs">100</text>
<line x1="508.72" y1="298.0" x2="508.72" y2="302.50" stroke="#111" stroke-width="1.35"/>
<text x="508.72" y="317.00" font-size="13.5" text-anchor="middle" textLength="19.0" lengthAdjust="spacingAndGlyphs">200</text>
<line x1="564.28" y1="298.0" x2="564.28" y2="302.50" stroke="#111" stroke-width="1.35"/>
<text x="564.28" y="317.00" font-size="13.5" text-anchor="middle" textLength="19.0" lengthAdjust="spacingAndGlyphs">300</text>
<line x1="619.84" y1="298.0" x2="619.84" y2="302.50" stroke="#111" stroke-width="1.35"/>
<text x="619.84" y="317.00" font-size="13.5" text-anchor="middle" textLength="19.0" lengthAdjust="spacingAndGlyphs">400</text>
<line x1="675.40" y1="298.0" x2="675.40" y2="302.50" stroke="#111" stroke-width="1.35"/>
<text x="675.40" y="317.00" font-size="13.5" text-anchor="middle" textLength="19.0" lengthAdjust="spacingAndGlyphs">500</text>
<rect x="610.7" y="32.2" width="60.1" height="58.4" fill="#fff" stroke="#000" stroke-width="1.3"/>
<circle cx="622.2" cy="41.1" r="3.4" fill="#3d8fdc"/>
<rect x="618.80" y="56.20" width="7.0" height="7.0" fill="#ffa500"/>
<path d="M622.30,74.90L618.80,81.90L625.80,81.90Z" fill="#b7200e" stroke="#b7200e" stroke-width="1" stroke-linejoin="miter"/>
<text x="634.10" y="45.90" font-size="13.9" textLength="32.4" lengthAdjust="spacingAndGlyphs">UD55</text>
<text x="634.10" y="64.60" font-size="13.9" textLength="32.4" lengthAdjust="spacingAndGlyphs">UD71</text>
<text x="634.10" y="83.20" font-size="13.9" textLength="32.4" lengthAdjust="spacingAndGlyphs">OP95</text>
<text x="366.60" y="10.60" font-size="14.5" textLength="16.9" lengthAdjust="spacingAndGlyphs">(b)</text>
<text x="518.1" y="335.0" font-size="15" class="m">T</text>
<text x="533.10" y="335.00" font-size="13.5" textLength="20.2" lengthAdjust="spacingAndGlyphs">(K)</text>
<g transform="translate(365.3,232.5) rotate(-90)">
<text x="-1.00" y="0.00" font-size="14.5" class="m">I</text>
<text x="5.80" y="2.00" font-size="10" class="r" textLength="18.3" lengthAdjust="spacingAndGlyphs">mag</text>
<path d="M29.8,-4.9H38.9M29.8,-2.1H38.9" stroke="#000" stroke-width="0.85" fill="none"/>
<text x="44.00" y="0.00" font-size="14.5" class="m">I</text>
<text x="50.60" y="-5.50" font-size="9.0" class="r">2</text>
<text x="50.60" y="2.90" font-size="9.0" class="m" textLength="9.2" lengthAdjust="spacingAndGlyphs">ab</text>
<path d="M64.7,-3.8H73.6M69.15,-8.2V0.6" stroke="#000" stroke-width="0.85" fill="none"/>
<text x="77.60" y="0.00" font-size="14.5" class="m">I</text>
<text x="84.60" y="-5.50" font-size="9.0" class="r">2</text>
<text x="83.80" y="2.90" font-size="9.0" class="m">c</text>
<text x="96.2" y="0" font-size="13.5" textLength="43.6" lengthAdjust="spacingAndGlyphs">(mbarn)</text>
</g>
</svg>
</body></html>
